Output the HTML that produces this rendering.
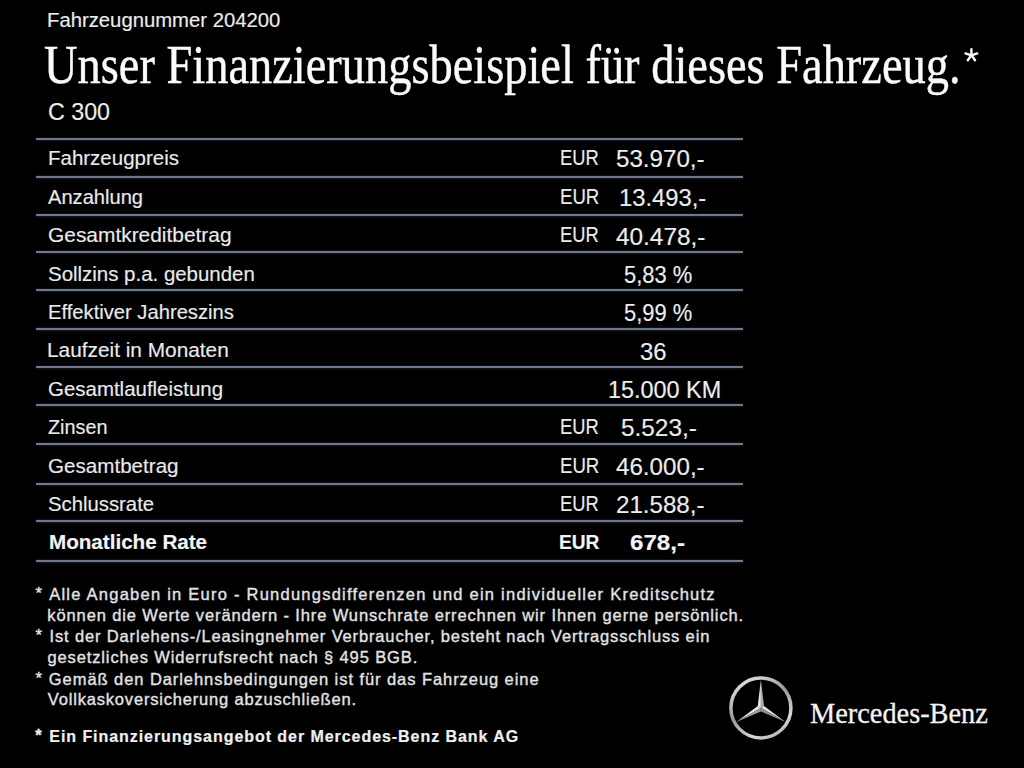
<!DOCTYPE html><html><head><meta charset="utf-8"><style>
html,body{margin:0;padding:0;}
body{width:1024px;height:768px;background:#000;position:relative;overflow:hidden;font-family:"Liberation Sans",sans-serif;}
.a{position:absolute;white-space:nowrap;line-height:1;transform-origin:0 0;}
.ln{position:absolute;left:36px;width:707px;height:2px;background:#6f7989;box-shadow:0 1px 2px rgba(40,50,80,0.55),0 -1px 1px rgba(40,50,70,0.35);}
.ast{position:absolute;line-height:1;font-size:16.5px;color:#e4e4e4;}
#ttl{-webkit-text-stroke-width:0.45px;}
#mb{-webkit-text-stroke-width:0.3px;}
[id^=fn]{-webkit-text-stroke-width:0.35px;}
#fnb{-webkit-text-stroke-width:0.2px;}
[id^=lab],[id^=eur],[id^=val],#hdr,#c300{-webkit-text-stroke-width:0.15px;}
.ast{-webkit-text-stroke-width:0.35px;}

</style></head><body>
<div class="ln" style="top:138px"></div>
<div class="ln" style="top:176px"></div>
<div class="ln" style="top:214px"></div>
<div class="ln" style="top:251px"></div>
<div class="ln" style="top:289px"></div>
<div class="ln" style="top:328px"></div>
<div class="ln" style="top:366px"></div>
<div class="ln" style="top:404px"></div>
<div class="ln" style="top:443px"></div>
<div class="ln" style="top:483px"></div>
<div class="ln" style="top:520px"></div>
<div class="ln" style="top:560px"></div>
<div class="ast" style="left:35.5px;top:584.9px">*</div>
<div class="ast" style="left:35.5px;top:627.2px">*</div>
<div class="ast" style="left:35.5px;top:669.5px">*</div>
<div class="ast" style="left:35.2px;top:727.4px;font-weight:bold;color:#f0f0f0">*</div>
<svg style="position:absolute;left:962px;top:46px" width="20" height="20" viewBox="0 0 20 20">
<g stroke="#fafafa" stroke-width="2.4" stroke-linecap="round" transform="translate(9.4,9.3)">
<line x1="0" y1="0" x2="0" y2="-6.2"/><line x1="0" y1="0" x2="5.9" y2="-1.92"/><line x1="0" y1="0" x2="3.64" y2="5.0"/><line x1="0" y1="0" x2="-3.64" y2="5.0"/><line x1="0" y1="0" x2="-5.9" y2="-1.92"/>
</g></svg>
<svg style="position:absolute;left:725px;top:672px" width="72" height="72" viewBox="0 0 72 72">
<defs><linearGradient id="rg" x1="0.2" y1="0" x2="0.8" y2="1">
<stop offset="0" stop-color="#e0e0e0"/><stop offset="0.45" stop-color="#9a9a9a"/><stop offset="0.8" stop-color="#d8d8d8"/><stop offset="1" stop-color="#b0b0b0"/></linearGradient></defs>
<circle cx="35.9" cy="35.9" r="30.0" fill="none" stroke="url(#rg)" stroke-width="3.5"/>
<path d="M35.90 7.50 L32.78 34.10 L35.90 35.90 Z" fill="#ececec"/>
<path d="M35.90 7.50 L35.90 35.90 L39.02 34.10 Z" fill="#a8a8a8"/>
<path d="M60.50 50.10 L39.02 34.10 L35.90 35.90 Z" fill="#e0e0e0"/>
<path d="M60.50 50.10 L35.90 35.90 L35.90 39.50 Z" fill="#8c8c8c"/>
<path d="M11.30 50.10 L35.90 35.90 L32.78 34.10 Z" fill="#e6e6e6"/>
<path d="M11.30 50.10 L35.90 39.50 L35.90 35.90 Z" fill="#9c9c9c"/>
</svg>
<div class="a" id="hdr" style='left:46.95px;top:10.10px;font-family:"Liberation Sans",sans-serif;font-size:20px;color:#ececec;transform:scaleX(1.0138);'>Fahrzeugnummer 204200</div>
<div class="a" id="ttl" style='left:44.06px;top:37.00px;font-family:"Liberation Serif",serif;font-size:55px;color:#fafafa;transform:scaleX(0.8440);'>Unser Finanzierungsbeispiel f&uuml;r dieses Fahrzeug.</div>
<div class="a" id="c300" style='left:47.98px;top:99.81px;font-family:"Liberation Sans",sans-serif;font-size:24.5px;color:#ececec;transform:scaleX(0.9487);'>C 300</div>
<div class="a" id="lab0" style='left:47.80px;top:148.20px;font-family:"Liberation Sans",sans-serif;font-size:20.5px;color:#eaeaea;transform:scaleX(0.9991);'>Fahrzeugpreis</div>
<div class="a" id="lab1" style='left:47.94px;top:186.50px;font-family:"Liberation Sans",sans-serif;font-size:20.5px;color:#eaeaea;transform:scaleX(0.9811);'>Anzahlung</div>
<div class="a" id="lab2" style='left:47.88px;top:225.20px;font-family:"Liberation Sans",sans-serif;font-size:20.5px;color:#eaeaea;transform:scaleX(1.0198);'>Gesamtkreditbetrag</div>
<div class="a" id="lab3" style='left:47.94px;top:263.75px;font-family:"Liberation Sans",sans-serif;font-size:20.5px;color:#eaeaea;transform:scaleX(0.9971);'>Sollzins p.a. gebunden</div>
<div class="a" id="lab4" style='left:48.05px;top:302.00px;font-family:"Liberation Sans",sans-serif;font-size:20.5px;color:#eaeaea;transform:scaleX(0.9846);'>Effektiver Jahreszins</div>
<div class="a" id="lab5" style='left:47.10px;top:340.20px;font-family:"Liberation Sans",sans-serif;font-size:20.5px;color:#eaeaea;transform:scaleX(1.0157);'>Laufzeit in Monaten</div>
<div class="a" id="lab6" style='left:47.65px;top:378.90px;font-family:"Liberation Sans",sans-serif;font-size:20.5px;color:#eaeaea;transform:scaleX(0.9976);'>Gesamtlaufleistung</div>
<div class="a" id="lab7" style='left:47.61px;top:417.00px;font-family:"Liberation Sans",sans-serif;font-size:20.5px;color:#eaeaea;transform:scaleX(0.9659);'>Zinsen</div>
<div class="a" id="lab8" style='left:47.90px;top:455.60px;font-family:"Liberation Sans",sans-serif;font-size:20.5px;color:#eaeaea;transform:scaleX(1.0051);'>Gesamtbetrag</div>
<div class="a" id="lab9" style='left:47.66px;top:494.10px;font-family:"Liberation Sans",sans-serif;font-size:20.5px;color:#eaeaea;transform:scaleX(0.9904);'>Schlussrate</div>
<div class="a" id="lab10" style='left:48.63px;top:531.82px;font-family:"Liberation Sans",sans-serif;font-size:20.5px;color:#f4f4f4;font-weight:700;transform:scaleX(1.0057);'>Monatliche Rate</div>
<div class="a" id="eur0" style='left:559.53px;top:147.32px;font-family:"Liberation Sans",sans-serif;font-size:22px;color:#eaeaea;transform:scaleX(0.8322);'>EUR</div>
<div class="a" id="eur1" style='left:560.29px;top:185.60px;font-family:"Liberation Sans",sans-serif;font-size:22px;color:#eaeaea;transform:scaleX(0.8456);'>EUR</div>
<div class="a" id="eur2" style='left:559.53px;top:224.32px;font-family:"Liberation Sans",sans-serif;font-size:22px;color:#eaeaea;transform:scaleX(0.8322);'>EUR</div>
<div class="a" id="eur7" style='left:559.53px;top:416.10px;font-family:"Liberation Sans",sans-serif;font-size:22px;color:#eaeaea;transform:scaleX(0.8322);'>EUR</div>
<div class="a" id="eur8" style='left:560.29px;top:454.70px;font-family:"Liberation Sans",sans-serif;font-size:22px;color:#eaeaea;transform:scaleX(0.8456);'>EUR</div>
<div class="a" id="eur9" style='left:559.53px;top:493.20px;font-family:"Liberation Sans",sans-serif;font-size:22px;color:#eaeaea;transform:scaleX(0.8322);'>EUR</div>
<div class="a" id="eur10" style='left:558.73px;top:533.00px;font-family:"Liberation Sans",sans-serif;font-size:19.5px;color:#f4f4f4;font-weight:700;transform:scaleX(0.9810);'>EUR</div>
<div class="a" id="val0" style='left:616.28px;top:148.21px;font-family:"Liberation Sans",sans-serif;font-size:23.5px;color:#ececec;transform:scaleX(1.0269);'>53.970,-</div>
<div class="a" id="val1" style='left:618.70px;top:186.81px;font-family:"Liberation Sans",sans-serif;font-size:23.5px;color:#ececec;transform:scaleX(1.0114);'>13.493,-</div>
<div class="a" id="val2" style='left:615.56px;top:225.51px;font-family:"Liberation Sans",sans-serif;font-size:23.5px;color:#ececec;transform:scaleX(1.0359);'>40.478,-</div>
<div class="a" id="val3" style='left:623.78px;top:264.01px;font-family:"Liberation Sans",sans-serif;font-size:23.5px;color:#ececec;transform:scaleX(0.9325);'>5,83 %</div>
<div class="a" id="val4" style='left:623.78px;top:302.31px;font-family:"Liberation Sans",sans-serif;font-size:23.5px;color:#ececec;transform:scaleX(0.9325);'>5,99 %</div>
<div class="a" id="val5" style='left:640.23px;top:340.51px;font-family:"Liberation Sans",sans-serif;font-size:23.5px;color:#ececec;transform:scaleX(1.0152);'>36</div>
<div class="a" id="val6" style='left:608.31px;top:378.91px;font-family:"Liberation Sans",sans-serif;font-size:23.5px;color:#ececec;transform:scaleX(0.9959);'>15.000 KM</div>
<div class="a" id="val7" style='left:621.17px;top:417.31px;font-family:"Liberation Sans",sans-serif;font-size:23.5px;color:#ececec;transform:scaleX(1.0359);'>5.523,-</div>
<div class="a" id="val8" style='left:615.52px;top:455.71px;font-family:"Liberation Sans",sans-serif;font-size:23.5px;color:#ececec;transform:scaleX(1.0281);'>46.000,-</div>
<div class="a" id="val9" style='left:616.41px;top:494.01px;font-family:"Liberation Sans",sans-serif;font-size:23.5px;color:#ececec;transform:scaleX(1.0262);'>21.588,-</div>
<div class="a" id="val10" style='left:630.09px;top:532.41px;font-family:"Liberation Sans",sans-serif;font-size:22px;color:#f4f4f4;font-weight:700;transform:scaleX(1.0969);'>678,-</div>
<div class="a" id="fn0" style='left:49.23px;top:585.81px;font-family:"Liberation Sans",sans-serif;font-size:16.5px;color:#e4e4e4;letter-spacing:1.240px;'>Alle Angaben in Euro - Rundungsdifferenzen und ein individueller Kreditschutz</div>
<div class="a" id="fn1" style='left:47.36px;top:606.81px;font-family:"Liberation Sans",sans-serif;font-size:16.5px;color:#e4e4e4;letter-spacing:0.875px;'>können die Werte verändern - Ihre Wunschrate errechnen wir Ihnen gerne persönlich.</div>
<div class="a" id="fn2" style='left:49.56px;top:628.20px;font-family:"Liberation Sans",sans-serif;font-size:16.5px;color:#e4e4e4;letter-spacing:0.850px;'>Ist der Darlehens-/Leasingnehmer Verbraucher, besteht nach Vertragsschluss ein</div>
<div class="a" id="fn3" style='left:47.45px;top:649.41px;font-family:"Liberation Sans",sans-serif;font-size:16.5px;color:#e4e4e4;letter-spacing:0.879px;'>gesetzliches Widerrufsrecht nach § 495 BGB.</div>
<div class="a" id="fn4" style='left:48.84px;top:670.51px;font-family:"Liberation Sans",sans-serif;font-size:16.5px;color:#e4e4e4;letter-spacing:0.934px;'>Gemäß den Darlehnsbedingungen ist für das Fahrzeug eine</div>
<div class="a" id="fn5" style='left:47.85px;top:691.31px;font-family:"Liberation Sans",sans-serif;font-size:16.5px;color:#e4e4e4;letter-spacing:0.812px;'>Vollkaskoversicherung abzuschließen.</div>
<div class="a" id="fnb" style='left:49.28px;top:729.00px;font-family:"Liberation Sans",sans-serif;font-size:16px;color:#f0f0f0;font-weight:700;letter-spacing:0.944px;'>Ein Finanzierungsangebot der Mercedes-Benz Bank AG</div>
<div class="a" id="mb" style='left:810.39px;top:698.81px;font-family:"Liberation Serif",serif;font-size:29.6px;color:#f2f2f2;transform:scaleX(0.9578);'>Mercedes-Benz</div>
</body></html>
